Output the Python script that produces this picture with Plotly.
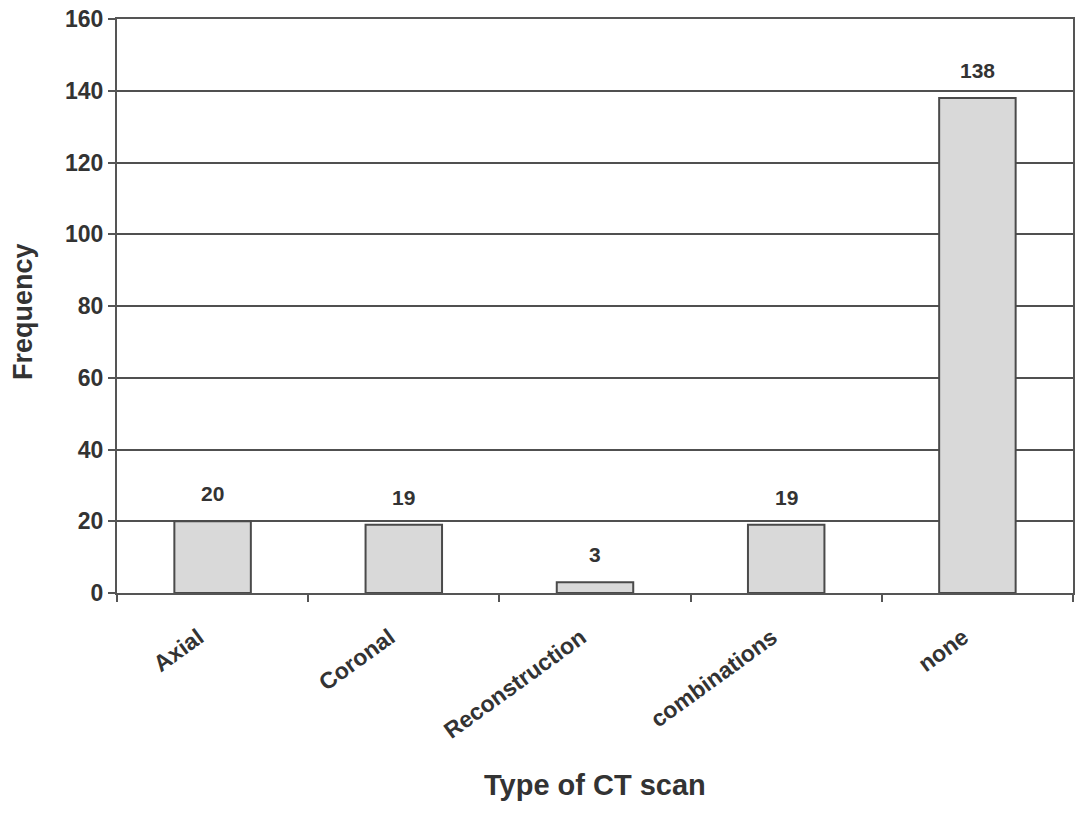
import plotly.graph_objects as go

categories = ["Axial", "Coronal", "Reconstruction", "combinations", "none"]
frequency = [20, 19, 3, 19, 138]
y_ticks = [0, 20, 40, 60, 80, 100, 120, 140, 160]

TXT = "#333333"
FONT = "Arial, Liberation Sans, sans-serif"

fig = go.Figure()
fig.add_trace(go.Bar(
    x=categories, y=frequency,
    marker=dict(color="#d9d9d9", line=dict(color="#4a4a4a", width=2)),
    width=0.4,
    hoverinfo="x+y",
))

for c, v in zip(categories, frequency):
    fig.add_annotation(x=c, y=v, text=str(v), showarrow=False,
                       yanchor="bottom", yshift=14,
                       font=dict(family=FONT, size=21, color=TXT, weight="bold"))

fig.add_annotation(x=0.5, y=-0.3345, xref="paper", yref="paper",
                   text="Type of CT scan", showarrow=False,
                   xanchor="center", yanchor="middle",
                   font=dict(family=FONT, size=29, color=TXT, weight="bold"))
fig.add_annotation(x=-0.0985, y=0.491, xref="paper", yref="paper",
                   text="Frequency", showarrow=False, textangle=-90,
                   xanchor="center", yanchor="middle",
                   font=dict(family=FONT, size=27, color=TXT, weight="bold"))

fig.update_layout(
    width=1082, height=830,
    margin=dict(l=117, r=9, t=19, b=237, autoexpand=False),
    paper_bgcolor="white", plot_bgcolor="white",
    showlegend=False,
    font=dict(family=FONT, color=TXT),
)
fig.update_xaxes(
    type="category", tickson="boundaries", automargin=False,
    ticks="outside", ticklen=7, tickwidth=2, tickcolor="#555555",
    showline=True, linecolor="#555555", linewidth=2, mirror=True,
    showgrid=False, tickangle=-36,
    ticklabelstandoff=20, ticklabelshift=-14,
    tickfont=dict(family=FONT, size=23, color=TXT, weight="bold"),
)
fig.update_yaxes(
    range=[0, 160], tickvals=y_ticks, automargin=False,
    ticklabeloverflow="allow",
    ticks="outside", ticklen=7, tickwidth=2, tickcolor="#555555",
    showline=True, linecolor="#555555", linewidth=2, mirror=True,
    showgrid=True, gridcolor="#505050", gridwidth=2,
    zeroline=False,
    tickfont=dict(family=FONT, size=23, color=TXT, weight="bold"),
)

# remove the browser's default 8px body margin so the figure fills the window
fig.write_html("out.html",
               config={"displayModeBar": False},
               post_script="document.body.style.margin='0';document.body.style.overflow='hidden';")
